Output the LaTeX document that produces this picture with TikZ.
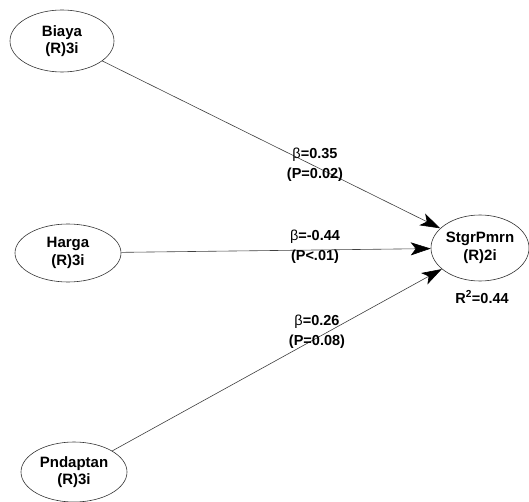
\documentclass[tikz,border=0pt]{standalone}
\usepackage{fontspec}
\setmainfont{Liberation Sans}
\usetikzlibrary{shapes.geometric,arrows.meta}
\begin{document}
\begin{tikzpicture}[x=1pt,y=-1pt,
  lv/.style={ellipse,draw=black!80,line width=0.6pt,inner sep=0pt,align=center,
    font=\fontsize{15}{17.5}\selectfont\bfseries},
  conn/.style={draw=black!75,line width=0.6pt,-{Stealth[length=20pt,width=13pt,inset=5pt,black]}},
  lab/.style={align=center,inner sep=0pt,font=\fontsize{14.5}{20}\selectfont\bfseries}]
\useasboundingbox (0,0) rectangle (529,502);
\node[lv,minimum width=104pt,minimum height=62pt] (b) at (62,41) {Biaya\\(R)3i};
\node[lv,minimum width=106pt,minimum height=58pt] (h) at (68,253) {Harga\\(R)3i};
\node[lv,minimum width=106pt,minimum height=60pt] (p) at (74,472) {Pndaptan\\(R)3i};
\node[lv,minimum width=98pt,minimum height=66pt] (s) at (480,248) {StgrPmrn\\(R)2i};
\node[lab] (r2) at (482,297) {R\textsuperscript{2}=0.44};
\draw[conn] (b) -- (s);
\draw[conn] (h) -- (s);
\draw[conn] (p) -- (s);
\node[lab] (l1) at (315,165) {{\mdseries β}=0.35\\(P=0.02)};
\node[lab] (l2) at (315,247) {{\mdseries β}=-0.44\\(P<.01)};
\node[lab] (l3) at (317,332) {{\mdseries β}=0.26\\(P=0.08)};
\end{tikzpicture}
\end{document}
